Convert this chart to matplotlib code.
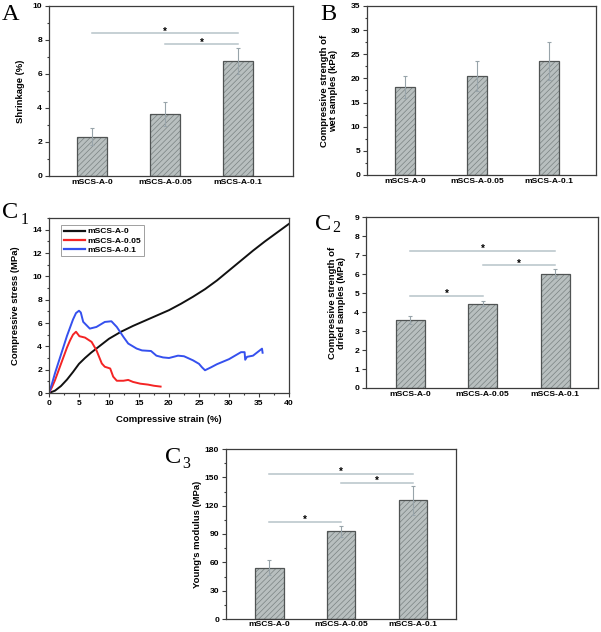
import numpy as np
import matplotlib
matplotlib.use("Agg")
import matplotlib.pyplot as plt
import matplotlib.ticker as mticker

plt.rcParams['font.family'] = ['Liberation Sans', 'DejaVu Sans']
plt.rcParams['font.weight'] = 'bold'
plt.rcParams['hatch.linewidth'] = 0.5

# ---- data ----
labels = ['mSCS-A-0', 'mSCS-A-0.05', 'mSCS-A-0.1']

shrinkage = [2.3, 3.65, 6.75]
shrinkage_err = [0.5, 0.7, 0.75]
shrinkage_sig = [(0, 2, 8.4), (1, 2, 7.75)]

wet_strength = [18.2, 20.5, 23.6]
wet_strength_err = [2.3, 3.1, 3.9]

dried_strength = [3.58, 4.43, 6.02]
dried_strength_err = [0.22, 0.14, 0.24]
dried_sig = [(0, 2, 7.22), (1, 2, 6.46), (0, 1, 4.86)]

modulus = [54.5, 92.8, 125.5]
modulus_err = [8, 6, 15]
modulus_sig = [(0, 2, 153.8), (1, 2, 144.3), (0, 1, 103)]

strain_0 = [0, 1, 2, 3, 4, 5, 6, 7, 8, 9, 10, 11.5, 12, 14, 16, 18, 20, 22, 24, 26, 28, 30, 32, 34, 36, 38, 40]
stress_0 = [0, 0.2, 0.6, 1.15, 1.8, 2.5, 3.0, 3.45, 3.85, 4.25, 4.65, 5.1, 5.25, 5.75, 6.2, 6.65, 7.1, 7.65, 8.25, 8.9, 9.65, 10.5, 11.35, 12.2, 13.0, 13.75, 14.5]

strain_005 = [0, 0.5, 1, 1.5, 2, 2.5, 3, 3.5, 4, 4.5, 5.06, 6.0, 7.1, 7.9, 8.8, 9.3, 10.2, 10.7, 11.3, 12.4, 13.2, 14.0, 15.2, 16.5, 17.5, 18.6]
stress_005 = [0, 0.5, 1.1, 1.8, 2.5, 3.2, 3.9, 4.5, 5.0, 5.25, 4.87, 4.75, 4.38, 3.67, 2.53, 2.25, 2.1, 1.4, 1.05, 1.05, 1.12, 0.95, 0.8, 0.72, 0.62, 0.55]

strain_01 = [0, 0.5, 1, 1.5, 2, 2.5, 3, 3.5, 4, 4.5, 5.0, 5.3, 5.7, 6.8, 7.9, 9.3, 10.4, 11.3, 12.4, 13.2, 14.6, 15.5, 17.0, 17.9, 19.0, 20.0, 21.5, 22.5, 24.0, 25.0, 25.5, 26.0, 27.0, 28.0, 30.0, 32.0, 32.6, 32.7, 33.0, 34.0, 35.0, 35.5, 35.6]
stress_01 = [0, 0.8, 1.7, 2.5, 3.3, 4.1, 4.9, 5.6, 6.3, 6.85, 7.05, 6.9, 6.1, 5.52, 5.66, 6.09, 6.15, 5.66, 4.81, 4.24, 3.81, 3.65, 3.6, 3.2, 3.05, 3.0, 3.2, 3.15, 2.8, 2.5, 2.2, 1.95, 2.2, 2.47, 2.9, 3.5, 3.5, 2.85, 3.1, 3.2, 3.6, 3.8, 3.45]

W, H = 601, 632
face = '#b8bfbf'
hatch_col = '#7a8282'
edge = '#505454'
spine_col = '#3c3c3c'
sig_col = '#b7c3c9'
tick_fs = 6.1
label_fs = 6.8


def new_axes(left, top, right, bottom):
    ax = fig.add_axes([left / W, 1 - bottom / H, (right - left) / W, (bottom - top) / H])
    for s in ax.spines.values():
        s.set_color(spine_col)
        s.set_linewidth(0.9)
    ax.tick_params(which='both', direction='out', color=spine_col, width=0.8,
                   labelsize=tick_fs, pad=2, top=False, right=False)
    ax.tick_params(which='major', length=3)
    ax.tick_params(which='minor', length=1.6)
    return ax


def bar_panel(ax, vals, errs, width, xlim, ylim, step, sig=()):
    x = np.arange(len(vals))
    ax.bar(x, vals, width, color=face, hatch='//////', edgecolor=hatch_col, linewidth=0, zorder=2)
    ax.bar(x, vals, width, fill=False, edgecolor=edge, linewidth=0.9, zorder=3)
    ax.errorbar(x, vals, yerr=errs, fmt='none', ecolor='#98a4aa', elinewidth=0.8,
                capsize=1.5, capthick=0.8, zorder=4)
    for i, j, y in sig:
        ax.plot([x[i], x[j]], [y, y], color=sig_col, lw=1.1, zorder=1)
        ax.annotate('*', ((x[i] + x[j]) / 2, y), xytext=(0, 1.2), textcoords='offset points',
                    ha='center', va='center', fontsize=7, fontweight='bold')
    ax.set_xticks(x)
    ax.set_xticklabels(labels)
    ax.tick_params(axis='x', length=0, pad=2.5)
    ax.set_xlim(*xlim)
    ax.set_ylim(*ylim)
    ax.yaxis.set_major_locator(mticker.MultipleLocator(step))
    ax.yaxis.set_minor_locator(mticker.AutoMinorLocator(2))


def panel_letter(x, y, letter, sub=None, sub_dx=18, sub_dy=5):
    fig.text(x / W, 1 - y / H, letter, family='Liberation Serif', fontweight='normal',
             fontsize=17.5, va='baseline')
    if sub:
        fig.text((x + sub_dx) / W, 1 - (y + sub_dy) / H, sub, family='Liberation Serif',
                 fontweight='normal', fontsize=11.5, va='baseline')


fig = plt.figure(figsize=(W / 100, H / 100), dpi=100)

# A
axA = new_axes(49, 6, 293, 176)
bar_panel(axA, shrinkage, shrinkage_err, 0.41, (-0.59, 2.75), (0, 10), 2, shrinkage_sig)
axA.set_ylabel('Shrinkage (%)', fontsize=label_fs, fontweight='bold')
axA.yaxis.set_label_coords(-0.1, 0.5)
panel_letter(2, 20, 'A')

# B
axB = new_axes(367, 6, 596, 175)
bar_panel(axB, wet_strength, wet_strength_err, 0.28, (-0.53, 2.65), (0, 35), 5)
axB.set_ylabel('Compressive strength of\nwet samples (kPa)', fontsize=label_fs, fontweight='bold',
               linespacing=1.1)
axB.yaxis.set_label_coords(-0.125, 0.5)
panel_letter(320, 20, 'B')

# C1
axC1 = new_axes(49, 218, 289, 393)
axC1.plot(strain_0, stress_0, color='#111111', lw=1.4, label='mSCS-A-0')
axC1.plot(strain_005, stress_005, color='#f42424', lw=1.4, label='mSCS-A-0.05')
axC1.plot(strain_01, stress_01, color='#3550ee', lw=1.4, label='mSCS-A-0.1')
axC1.set_xlim(0, 40)
axC1.set_ylim(0, 15)
axC1.xaxis.set_major_locator(mticker.MultipleLocator(5))
axC1.xaxis.set_minor_locator(mticker.AutoMinorLocator(2))
axC1.yaxis.set_major_locator(mticker.MultipleLocator(2))
axC1.yaxis.set_minor_locator(mticker.AutoMinorLocator(2))
axC1.set_xlabel('Compressive strain (%)', fontsize=label_fs, fontweight='bold', labelpad=6)
axC1.set_ylabel('Compressive stress (MPa)', fontsize=label_fs, fontweight='bold')
axC1.yaxis.set_label_coords(-0.12, 0.5)
leg = axC1.legend(loc='upper left', bbox_to_anchor=(0.05, 0.96), fontsize=tick_fs, frameon=True,
                  fancybox=False, edgecolor='#888888', handlelength=2.5, handletextpad=0.3,
                  borderpad=0.3, labelspacing=0.15, borderaxespad=0)
leg.get_frame().set_linewidth(0.7)
for h in leg.get_lines():
    h.set_linewidth(1.6)
panel_letter(2, 218, 'C', '1', sub_dx=19, sub_dy=6)

# C2
axC2 = new_axes(366, 217, 598, 388)
bar_panel(axC2, dried_strength, dried_strength_err, 0.4, (-0.61, 2.59), (0, 9), 1, dried_sig)
axC2.yaxis.set_minor_locator(mticker.NullLocator())
axC2.set_ylabel('Compressive strength of\ndried samples (MPa)', fontsize=label_fs, fontweight='bold',
                linespacing=1.1)
axC2.yaxis.set_label_coords(-0.085, 0.5)
panel_letter(315, 230, 'C', '2', sub_dx=17, sub_dy=2)

# C3
axC3 = new_axes(226, 449, 456, 619)
bar_panel(axC3, modulus, modulus_err, 0.4, (-0.6, 2.6), (0, 180), 30, modulus_sig)
axC3.tick_params(axis='x', pad=1.5)
axC3.set_ylabel("Young's modulus (MPa)", fontsize=label_fs, fontweight='bold')
axC3.yaxis.set_label_coords(-0.105, 0.5)
panel_letter(165, 463, 'C', '3', sub_dx=17, sub_dy=5)

fig.savefig('out.png', dpi=100)
